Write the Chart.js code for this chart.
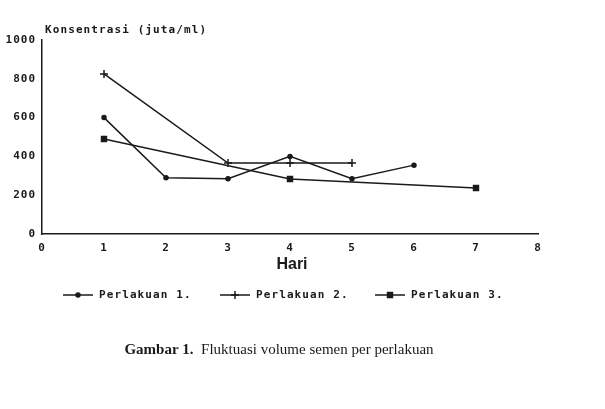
<!DOCTYPE html>
<html>
<head>
<meta charset="utf-8">
<script src="https://cdn.jsdelivr.net/npm/chart.js@4/dist/chart.umd.min.js"></script>
<style>
    html, body { margin: 0; padding: 0; background: #fff; }
    #wrap { position: relative; width: 605px; height: 409px; }
</style>
</head>
<body>
<div id="wrap"><canvas id="chart" width="605" height="409"></canvas></div>
<script>
// Data
const p1Days = [1, 2, 3, 4, 5, 6];
const p1Values = [600, 290, 285, 400, 285, 355];

const p2Days = [1, 3, 4, 5];
const p2Values = [825, 366, 366, 366];

const p3Days = [1, 4, 7];
const p3Values = [490, 284, 237];

const seriesNames = ['Perlakuan 1.', 'Perlakuan 2.', 'Perlakuan 3.'];
const yTicks = [0, 200, 400, 600, 800, 1000];
const xTicks = [0, 1, 2, 3, 4, 5, 6, 7, 8];

const yTitle = 'Konsentrasi (juta/ml)';
const xTitle = 'Hari';
const caption = ['Gambar 1.', '  Fluktuasi volume semen per perlakuan'];

const MONO = '"DejaVu Sans Mono", "Liberation Mono", monospace';
const INK = '#1a1a1a';

function toPoints(days, values) {
    return days.map((d, i) => ({ x: d, y: values[i] }));
}

const styles = [
    { pointStyle: 'circle', pointRadius: 2 },
    { pointStyle: 'cross', pointRadius: 4 },
    { pointStyle: 'rect', pointRadius: 3.5 }
];

const datasets = [
    toPoints(p1Days, p1Values),
    toPoints(p2Days, p2Values),
    toPoints(p3Days, p3Values)
].map((pts, i) => ({
    label: seriesNames[i],
    data: pts,
    borderColor: INK,
    backgroundColor: INK,
    borderWidth: 1.5,
    pointBorderWidth: 1.5,
    pointStyle: styles[i].pointStyle,
    pointRadius: styles[i].pointRadius,
    tension: 0,
    fill: false
}));

// letter spacing to imitate the wide dot-matrix print
const spacingPlugin = {
    id: 'spacing',
    beforeDraw(chart) {
        chart.ctx.letterSpacing = '1px';
    }
};

// titles, legend and caption
const extrasPlugin = {
    id: 'extras',
    afterDraw(chart) {
        const ctx = chart.ctx;
        ctx.save();
        ctx.fillStyle = INK;
        ctx.strokeStyle = INK;

        // y axis title
        ctx.letterSpacing = '1.1px';
        ctx.font = 'bold 11px ' + MONO;
        ctx.textAlign = 'left';
        ctx.textBaseline = 'middle';
        ctx.fillText(yTitle, 45, 30);

        // x axis title
        ctx.letterSpacing = '0px';
        ctx.font = 'bold 16px "Liberation Sans", Arial, sans-serif';
        ctx.textAlign = 'center';
        ctx.fillText(xTitle, 292, 265);

        // legend
        const legendX = [63, 220, 375];
        const legendY = 295;
        chart.data.datasets.forEach((ds, i) => {
            const x0 = legendX[i];
            ctx.lineWidth = 1.5;
            ctx.beginPath();
            ctx.moveTo(x0, legendY);
            ctx.lineTo(x0 + 30, legendY);
            ctx.stroke();
            Chart.helpers.drawPoint(ctx, {
                pointStyle: ds.pointStyle,
                radius: ds.pointRadius,
                borderWidth: 1.5,
                rotation: 0
            }, x0 + 15, legendY);
            ctx.fill();
            ctx.letterSpacing = '1.1px';
            ctx.font = 'bold 11px ' + MONO;
            ctx.textAlign = 'left';
            ctx.fillText(ds.label, x0 + 36, legendY);
        });

        // caption
        ctx.letterSpacing = '0px';
        ctx.textAlign = 'left';
        const serif = '"Liberation Serif", "Times New Roman", serif';
        ctx.font = 'bold 15px ' + serif;
        const w1 = ctx.measureText(caption[0]).width;
        ctx.font = '15px ' + serif;
        const w2 = ctx.measureText(caption[1]).width;
        const cx = 279 - (w1 + w2) / 2;
        ctx.font = 'bold 15px ' + serif;
        ctx.fillText(caption[0], cx, 350);
        ctx.font = '15px ' + serif;
        ctx.fillText(caption[1], cx + w1, 350);

        ctx.restore();
    }
};

new Chart(document.getElementById('chart'), {
    type: 'line',
    data: { datasets },
    options: {
        responsive: false,
        animation: false,
        layout: { padding: { top: 40, right: 67, bottom: 145, left: 0 } },
        plugins: {
            legend: { display: false },
            tooltip: { enabled: false }
        },
        scales: {
            x: {
                type: 'linear',
                min: xTicks[0],
                max: xTicks[xTicks.length - 1],
                afterBuildTicks: scale => { scale.ticks = xTicks.map(v => ({ value: v })); },
                afterFit: scale => { scale.height = 30; },
                grid: { display: false, drawTicks: false },
                border: { display: true, color: INK, width: 1.5 },
                ticks: {
                    color: INK,
                    padding: 8,
                    maxRotation: 0,
                    font: { family: MONO, size: 11, weight: 'bold' },
                    callback: v => String(v)
                }
            },
            y: {
                min: yTicks[0],
                max: yTicks[yTicks.length - 1],
                afterBuildTicks: scale => { scale.ticks = yTicks.map(v => ({ value: v })); },
                afterFit: scale => { scale.width = 42; },
                grid: { display: false, drawTicks: false },
                border: { display: true, color: INK, width: 1.5 },
                ticks: {
                    color: INK,
                    padding: 6,
                    font: { family: MONO, size: 11, weight: 'bold' },
                    callback: v => String(v)
                }
            }
        }
    },
    plugins: [spacingPlugin, extrasPlugin]
});
</script>
</body>
</html>
